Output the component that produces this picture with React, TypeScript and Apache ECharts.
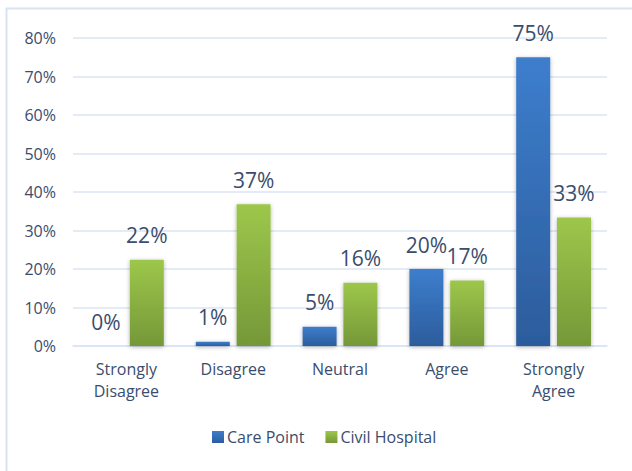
import React, { useEffect, useRef } from "react";
import * as echarts from "echarts";

const categories = ["Strongly\nDisagree", "Disagree", "Neutral", "Agree", "Strongly\nAgree"];
const carePoint = [0, 1.1, 5, 20, 75];
const civilHospital = [22.4, 36.8, 16.4, 17.0, 33.4];
const seriesNames = ["Care Point", "Civil Hospital"];

const textColor = "#3A4D6D";
const gridColor = "#D9E4F3";
const font = "Open Sans";

export default function App() {
  const ref = useRef<HTMLDivElement>(null);
  useEffect(() => {
    if (!ref.current) return;
    const chart = echarts.init(ref.current, undefined, { renderer: "svg" });
    const barLabel = {
      show: true,
      position: "top",
      distance: 14,
      fontSize: 21,
      fontFamily: font,
      color: textColor,
      formatter: (p: any) => Math.round(p.value) + "%",
    };
    const shadow = {
      shadowColor: "rgba(0,0,0,0.3)",
      shadowBlur: 4,
      shadowOffsetY: 1,
    };
    chart.setOption({
      animation: false,
      backgroundColor: "#ffffff",
      textStyle: { fontFamily: font },
      grid: { left: 73, right: 25, top: 38, bottom: 125 },
      legend: {
        data: seriesNames,
        left: 212,
        top: 429,
        padding: 0,
        itemWidth: 12,
        itemHeight: 12,
        itemGap: 21,
        icon: "rect",
        textStyle: { fontSize: 16, color: textColor, fontFamily: font, padding: [0, 0, 0, -2] },
      },
      xAxis: {
        type: "category",
        data: categories,
        axisTick: { show: false },
        axisLine: { lineStyle: { color: gridColor, width: 1.5 } },
        axisLabel: {
          fontSize: 16,
          color: textColor,
          fontFamily: font,
          margin: 12,
          lineHeight: 22,
          interval: 0,
        },
      },
      yAxis: {
        type: "value",
        min: 0,
        max: 80,
        interval: 10,
        axisLine: { show: false },
        axisTick: { show: false },
        splitLine: { lineStyle: { color: gridColor, width: 1.5 } },
        axisLabel: {
          formatter: "{value}%",
          fontSize: 16,
          color: textColor,
          fontFamily: font,
          margin: 17,
        },
      },
      series: [
        {
          name: seriesNames[0],
          type: "bar",
          data: carePoint,
          barWidth: 34,
          barGap: "20%",
          label: barLabel,
          itemStyle: {
            color: new echarts.graphic.LinearGradient(0, 0, 0, 1, [
              { offset: 0, color: "#3D7ECD" },
              { offset: 1, color: "#2C5C9C" },
            ]),
            ...shadow,
          },
        },
        {
          name: seriesNames[1],
          type: "bar",
          data: civilHospital,
          barWidth: 34,
          label: barLabel,
          itemStyle: {
            color: new echarts.graphic.LinearGradient(0, 0, 0, 1, [
              { offset: 0, color: "#9DC74B" },
              { offset: 1, color: "#759838" },
            ]),
            ...shadow,
          },
        },
      ],
      graphic: [
        {
          type: "line",
          shape: { x1: 6.5, y1: 8, x2: 6.5, y2: 471 },
          style: { stroke: gridColor, lineWidth: 2 },
        },
        {
          type: "line",
          shape: { x1: 6, y1: 8.5, x2: 632, y2: 8.5 },
          style: { stroke: gridColor, lineWidth: 2 },
        },
      ],
    });
    return () => chart.dispose();
  }, []);
  return (
    <div
      ref={ref}
      style={{ position: "fixed", left: 0, top: 0, width: 632, height: 471 }}
    />
  );
}
